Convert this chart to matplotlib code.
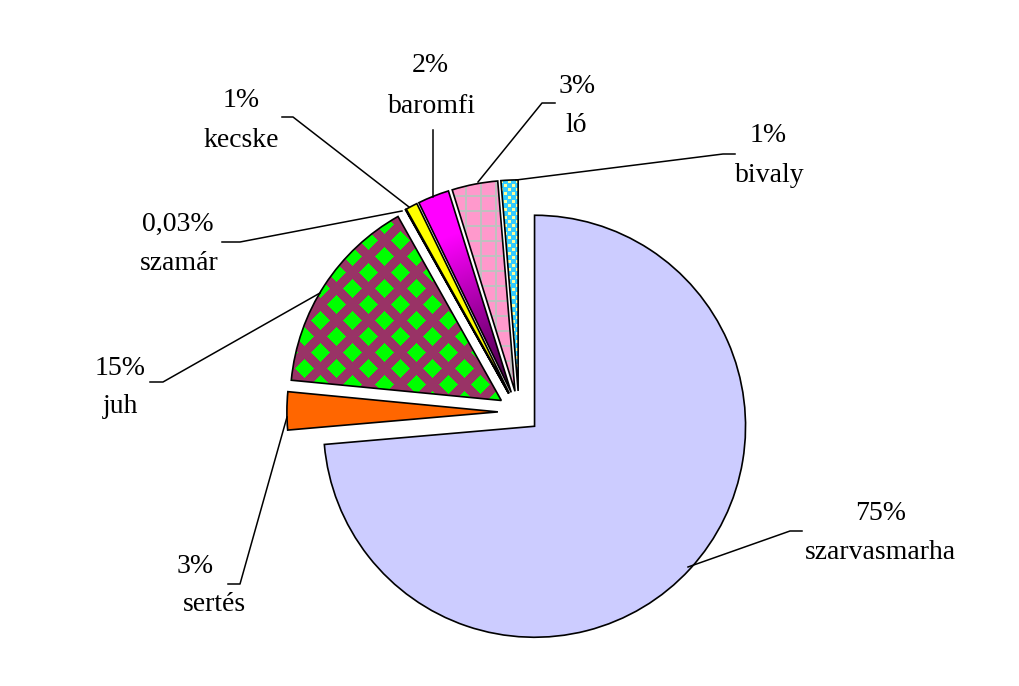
import matplotlib
matplotlib.use("Agg")
import matplotlib.pyplot as plt
import numpy as np

# datos (porcentajes)
categorias = ["szarvasmarha", "sertés", "juh", "szamár", "kecske", "baromfi", "ló", "bivaly"]
valores = [73.5, 2.9, 15.3, 0.03, 0.9, 2.4, 3.5, 1.3]
etiquetas_pct = ["75%", "3%", "15%", "0,03%", "1%", "2%", "3%", "1%"]

colores = ["#CCCCFF", "#FF6600", "#993366", "#CCFFFF", "#FFFF00", "#FF00FF", "#FF99CC", "#33CCFF"]

# geometria en pixeles de la figura
ANCHO, ALTO = 1020, 686
CX, CY, R = 519, 412, 211


def px(x, y):
    return (x - CX) / R, (CY - y) / R


# posiciones de las etiquetas: (x centro, linea base) para porcentaje y nombre
pos_pct = [(881, 520), (195, 573), (120, 375), (178, 231), (241, 107), (430, 72), (577, 93), (768, 142)]
pos_nombre = [(880, 559), (214, 611), (121, 413), (179, 270), (241, 147), (432, 113), (576, 132), (770, 182)]

# lineas guia
guias = [
    [(688, 567), (790, 531), (802, 531)],
    [(287, 417), (240, 584), (228, 584)],
    [(320, 293), (163, 382), (150, 382)],
    [(402, 211), (240, 242), (222, 242)],
    [(409, 207), (293, 117), (282, 117)],
    [(433, 197), (433, 130)],
    [(478, 182), (542, 103), (555, 103)],
    [(516, 180), (723, 154), (735, 154)],
]


def dist_l1(x, y, p, ox, oy):
    dx = np.abs((x - ox + p / 2) % p - p / 2)
    dy = np.abs((y - oy + p / 2) % p - p / 2)
    return dx + dy


def hex_rgb(c):
    return np.array(matplotlib.colors.to_rgb(c))


yy, xx = np.mgrid[0:ALTO, 0:ANCHO]

fig = plt.figure(figsize=(ANCHO / 100, ALTO / 100), dpi=100)
ax = fig.add_axes([0, 0, 1, 1])

wedges, _ = ax.pie(valores, explode=[0.1] * len(valores), startangle=90, counterclock=False,
                   colors=colores, radius=1,
                   wedgeprops=dict(edgecolor="black", linewidth=1.2))

xmin, ymax = px(0, 0)
xmax, ymin = px(ANCHO, ALTO)
extent = (xmin, xmax, ymin, ymax)


def rellenar(w, img):
    w.set_facecolor("none")
    w.set_zorder(3)
    im = ax.imshow(img, extent=extent, origin="upper", interpolation="nearest", zorder=2)
    im.set_clip_path(w)


# juh: rombos verdes sobre granate
verde = np.minimum(dist_l1(xx, yy, 32, 0, 0), dist_l1(xx, yy, 32, 16, 16)) <= 9.5
img = np.zeros((ALTO, ANCHO, 3))
img[:] = hex_rgb("#993366")
img[verde] = hex_rgb("#00FF00")
rellenar(wedges[2], img)

# baromfi: degradado
cx_b, cy_b = wedges[5].center
ax_px, ay_px = CX + R * cx_b, CY - R * cy_b
r = np.hypot(xx - ax_px, yy - ay_px) / R
v = 0.2 + 0.8 * np.clip(r / 0.8, 0, 1)
img = np.zeros((ALTO, ANCHO, 3))
img[..., 0] = v
img[..., 2] = v
rellenar(wedges[5], img)

# lo: rosa con cuadricula gris
img = np.zeros((ALTO, ANCHO, 3))
img[:] = hex_rgb("#FF99CC")
rejilla = (xx % 15 < 2) | (yy % 15 < 2)
img[rejilla] = hex_rgb("#C0C0C0")
rellenar(wedges[6], img)

# bivaly: cian con puntos amarillos
img = np.zeros((ALTO, ANCHO, 3))
img[:] = hex_rgb("#33CCFF")
puntos = ((xx % 8 < 3) & (yy % 8 < 3)) | (((xx + 4) % 8 < 3) & ((yy + 4) % 8 < 3))
img[puntos] = hex_rgb("#FFFF99")
rellenar(wedges[7], img)

for linea in guias:
    xs, ys = zip(*[px(x, y) for x, y in linea])
    ax.plot(xs, ys, color="black", linewidth=1.1, zorder=4)

fuente = dict(family="Liberation Serif", fontsize=20, ha="center", va="baseline")
for i in range(len(categorias)):
    x, y = px(*pos_pct[i])
    ax.text(x, y, etiquetas_pct[i], **fuente)
    x, y = px(*pos_nombre[i])
    ax.text(x, y, categorias[i], **fuente)

ax.set_xlim(xmin, xmax)
ax.set_ylim(ymin, ymax)
ax.set_aspect("equal")
ax.axis("off")

plt.savefig("out.png", dpi=100)
